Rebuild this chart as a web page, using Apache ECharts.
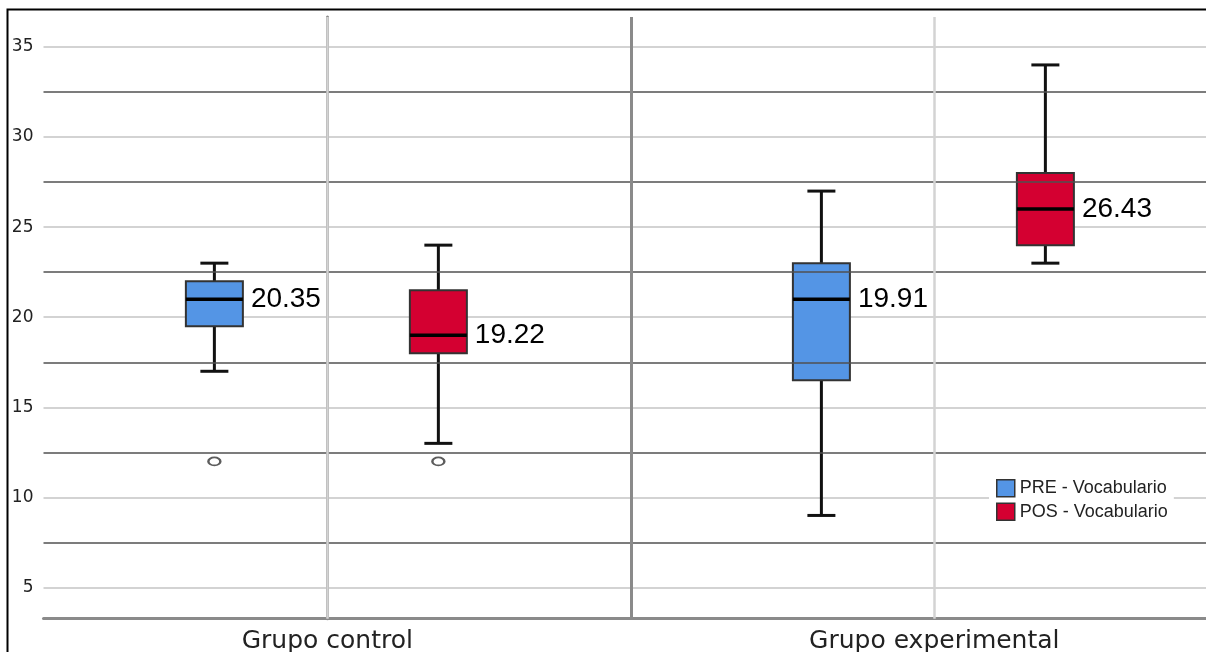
<!DOCTYPE html>
<html>
<head>
<meta charset="utf-8">
<script src="https://cdn.jsdelivr.net/npm/echarts@6/dist/echarts.min.js"></script>
<style>
  html, body { margin: 0; padding: 0; background: #fff; }
  #chart { width: 1206px; height: 652px; }
</style>
</head>
<body>
<div id="chart"></div>
<script>
// ---- data ----
const categories = ['Grupo control', 'Grupo experimental'];
const seriesNames = ['PRE - Vocabulario', 'POS - Vocabulario'];
// [min, Q1, median, Q3, max] per category
const preStats = [[17, 19.5, 21, 22, 23], [9, 16.5, 21, 23, 27]];
const posStats = [[13, 18, 19, 21.5, 24], [23, 24, 26, 28, 34]];
// means printed next to each box
const preMeans = [20.35, 19.91];
const posMeans = [19.22, 26.43];
// outliers: [category index, value]
const preOutliers = [[0, 12]];
const posOutliers = [[0, 12]];
// heavy reference lines drawn between the value ticks
const refLines = [7.5, 12.5, 17.5, 22.5, 27.5, 32.5];

// ---- layout / style ----
const seriesOffsets = [-0.186, 0.183];
const colors = ['#5495E5', '#D40031'];
const BOX_W = 57, CAP_W = 28;

function buildBoxData(stats, means, off) {
  return stats.map((s, i) => [i + off, s[0], s[1], s[2], s[3], s[4], means[i]]);
}
function buildOutliers(list, off) {
  return list.map(p => [p[0] + off, p[1]]);
}

function renderBox(params, api) {
  const x = api.value(0);
  const pMin = api.coord([x, api.value(1)]);
  const pQ1 = api.coord([x, api.value(2)]);
  const pMed = api.coord([x, api.value(3)]);
  const pQ3 = api.coord([x, api.value(4)]);
  const pMax = api.coord([x, api.value(5)]);
  const mean = api.value(6);
  const cx = pMed[0];
  const fill = api.visual('color');
  const wStyle = { stroke: '#111', lineWidth: 3 };
  return {
    type: 'group',
    children: [
      { type: 'line', shape: { x1: cx, y1: pQ3[1], x2: cx, y2: pMax[1] }, style: wStyle },
      { type: 'line', shape: { x1: cx, y1: pQ1[1], x2: cx, y2: pMin[1] }, style: wStyle },
      { type: 'line', shape: { x1: cx - CAP_W / 2, y1: pMax[1], x2: cx + CAP_W / 2, y2: pMax[1] }, style: wStyle },
      { type: 'line', shape: { x1: cx - CAP_W / 2, y1: pMin[1], x2: cx + CAP_W / 2, y2: pMin[1] }, style: wStyle },
      { type: 'rect', shape: { x: cx - BOX_W / 2, y: pQ3[1], width: BOX_W, height: pQ1[1] - pQ3[1] },
        style: { fill: fill, stroke: '#333', lineWidth: 2 } },
      { type: 'line', shape: { x1: cx - BOX_W / 2, y1: pMed[1], x2: cx + BOX_W / 2, y2: pMed[1] },
        style: { stroke: '#000', lineWidth: 3.5 } },
      { type: 'text', x: cx + BOX_W / 2 + 8, y: pMed[1],
        style: { text: mean.toFixed(2), fill: '#000', fontSize: 28,
                 fontFamily: '"Liberation Sans", Arial, sans-serif',
                 verticalAlign: 'middle', align: 'left' } }
    ]
  };
}

const chart = echarts.init(document.getElementById('chart'), null, { renderer: 'canvas' });

const gridLineData = [
  ...refLines.map(v => ({ yAxis: v, lineStyle: { color: '#505050', width: 1.6, type: 'solid' } })),
  { xAxis: 0, lineStyle: { color: '#d3d3d3', width: 2.5, type: 'solid' } },
  { xAxis: 1, lineStyle: { color: '#d3d3d3', width: 2.5, type: 'solid' } },
  { xAxis: 0.5, lineStyle: { color: '#8a8a8a', width: 3, type: 'solid' } }
];

const option = {
  animation: false,
  backgroundColor: '#fff',
  graphic: [{
    type: 'polyline',
    shape: { points: [[7.5, 652], [7.5, 9.5], [1206, 9.5]] },
    style: { stroke: '#000', lineWidth: 2, fill: null },
    silent: true, z: 10
  }],
  grid: { left: 43.5, right: 0, top: 17, bottom: 33.3, containLabel: false, outerBoundsMode: 'none' },
  legend: {
    orient: 'vertical',
    left: 989, top: 474,
    padding: [5, 6, 5, 7],
    backgroundColor: '#fff',
    itemWidth: 18, itemHeight: 17, itemGap: 5,
    textStyle: { fontSize: 18, color: '#222', fontFamily: '"Liberation Sans", Arial, sans-serif' },
    data: seriesNames.map((n, i) => ({
      name: n, icon: 'rect',
      itemStyle: { color: colors[i], borderColor: '#333', borderWidth: 1.5 }
    }))
  },
  xAxis: {
    type: 'value',
    min: -0.4675, max: 1.4476,
    axisLine: { show: true, lineStyle: { color: '#8a8a8a', width: 3 } },
    axisTick: { show: false },
    splitLine: { show: false },
    axisLabel: {
      customValues: [0, 1],
      formatter: v => categories[Math.round(v)],
      fontSize: 25, color: '#222', margin: 10,
      fontFamily: '"DejaVu Sans", sans-serif'
    }
  },
  yAxis: {
    type: 'value',
    min: 3.27, max: 36.66,
    splitNumber: 7,
    axisLine: { show: true, lineStyle: { color: '#8a8a8a', width: 3 } },
    axisTick: { show: false },
    splitLine: { show: true, showMinLine: false, showMaxLine: false,
                 lineStyle: { color: '#d3d3d3', width: 2 } },
    axisLabel: { showMinLabel: false, showMaxLabel: false,
                 fontSize: 17, color: '#222', margin: 10,
                 fontFamily: '"DejaVu Sans", sans-serif' }
  },
  series: [
    {
      type: 'line', name: 'gridlines', data: [], z: 1, silent: true,
      markLine: { symbol: ['none', 'none'], silent: true, label: { show: false }, data: gridLineData }
    },
    {
      type: 'custom', name: seriesNames[0], z: 3,
      itemStyle: { color: colors[0] },
      renderItem: renderBox,
      encode: { x: 0, y: [1, 2, 3, 4, 5] },
      data: buildBoxData(preStats, preMeans, seriesOffsets[0])
    },
    {
      type: 'custom', name: seriesNames[1], z: 3,
      itemStyle: { color: colors[1] },
      renderItem: renderBox,
      encode: { x: 0, y: [1, 2, 3, 4, 5] },
      data: buildBoxData(posStats, posMeans, seriesOffsets[1])
    },
    {
      type: 'scatter', name: 'outliers', z: 3,
      symbol: 'emptyCircle', symbolSize: [12, 8],
      itemStyle: { color: '#333', borderColor: '#333', borderWidth: 2 },
      data: [...buildOutliers(preOutliers, seriesOffsets[0]), ...buildOutliers(posOutliers, seriesOffsets[1])]
    }
  ]
};
chart.setOption(option);
</script>
</body>
</html>
